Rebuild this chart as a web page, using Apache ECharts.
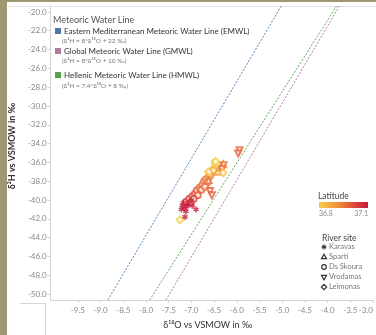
<!DOCTYPE html>
<html>
<head>
<meta charset="utf-8">
<script src="https://cdn.jsdelivr.net/npm/echarts@6/dist/echarts.min.js"></script>
<style>
  html, body { margin: 0; padding: 0; background: #fff; }
  #chart { width: 376px; height: 335px; }
</style>
</head>
<body>
<div id="chart"></div>
<script>
// axis extents and tick labels
const X_MIN = -10.1, X_MAX = -3.0
const Y_MIN = -50.63, Y_MAX = -19.37
const X_TICKS = [-9.5, -9.0, -8.5, -8.0, -7.5, -7.0, -6.5, -6.0, -5.5, -5.0, -4.5, -4.0, -3.5, -3.0]
const Y_TICKS = [-50, -48, -46, -44, -42, -40, -38, -36, -34, -32, -30, -28, -26, -24, -22, -20]

// meteoric water lines, as drawn (end points at the pane edges)
const EMWL_LINE = [[-8.84, -50.63], [-5.02, -19.37]]
const GMWL_LINE = [[-7.56, -50.63], [-3.74, -19.37]]
const HMWL_LINE = [[-7.92, -50.63], [-3.80, -19.37]]

// samples: [d18O, d2H, latitude]
const KARAVAS = [
  [-7.20, -40.6, 37.10], [-7.16, -40.9, 37.09], [-7.12, -41.2, 37.10], [-7.08, -40.4, 37.08],
  [-7.14, -41.8, 37.10], [-7.04, -40.2, 37.07], [-6.90, -41.0, 37.09], [-7.18, -40.3, 37.08],
  [-7.10, -40.7, 37.10], [-7.00, -40.0, 37.06], [-7.22, -41.0, 37.10], [-6.98, -40.6, 37.08],
]
const SPARTI = [
  [-6.35, -36.5, 36.92], [-6.30, -36.2, 36.94], [-6.42, -37.0, 36.90], [-6.62, -37.9, 36.96],
]
const DS_SKOURA = [
  [-7.12, -40.2, 37.05], [-7.05, -39.9, 37.04], [-6.98, -39.6, 37.02], [-6.92, -39.3, 37.01],
  [-6.88, -39.0, 36.99], [-6.82, -38.7, 36.98], [-6.76, -38.4, 36.96], [-6.72, -38.0, 36.95],
  [-6.68, -37.8, 36.94], [-6.62, -37.6, 36.93], [-6.58, -37.4, 36.91], [-6.54, -37.0, 36.89],
  [-6.50, -36.7, 36.86], [-6.47, -36.4, 36.82], [-6.45, -36.2, 36.80], [-6.43, -36.5, 36.80],
  [-6.52, -36.9, 36.85], [-6.60, -37.2, 36.90], [-6.65, -38.1, 36.95], [-6.78, -38.9, 36.98],
  [-6.86, -39.5, 37.00], [-6.95, -39.9, 37.03], [-7.02, -40.3, 37.05], [-6.70, -38.6, 36.97],
  [-6.48, -36.0, 36.81], [-6.40, -36.3, 36.83],
]
const VRODAMAS = [
  [-5.94, -34.7, 36.97], [-5.97, -35.05, 36.98], [-6.29, -36.3, 36.95], [-6.33, -36.7, 36.96],
  [-6.59, -39.05, 36.98], [-6.55, -39.5, 36.99],
]
const LEIMONAS = [
  [-7.25, -42.1, 36.80], [-6.30, -37.1, 36.81], [-6.62, -37.0, 36.82], [-6.47, -35.9, 36.80],
]

const LAT_MIN = 36.8, LAT_MAX = 37.1
const LAT_COLORS = ['#f6cf4c', '#f09a3c', '#e3553b', '#c2183c']

const ASTERISK = 'path://M-1.2,-5L1.2,-5L1.2,5L-1.2,5Z' +
  'M-4.93,-1.46L-3.73,-3.54L4.93,1.46L3.73,3.54Z' +
  'M-3.73,3.54L-4.93,1.46L3.73,-3.54L4.93,-1.46Z'

const FONT = "'Liberation Sans Narrow', Lato"
const AXIS_GREY = '#d6d6d6'
const LABEL_GREY = '#8a8a8a'

function mwlSeries(name, data, color) {
  return {
    name,
    type: 'line',
    data,
    symbol: 'none',
    silent: true,
    lineStyle: { color, width: 1, type: [2, 1.5] },
    z: 1,
  }
}

function siteSeries(name, data, symbol, size, extra) {
  return Object.assign({
    name,
    type: 'scatter',
    data,
    symbol,
    symbolSize: size,
    itemStyle: { borderWidth: 1.1 },
    z: 3,
  }, extra || {})
}

const legendText = (x, y, text, size, color, weight) => ({
  type: 'text', x, y,
  style: { text, font: `${weight || 'normal'} ${size}px ${FONT}`, fill: color, textVerticalAlign: 'middle' },
})
const swatch = (x, y, color) => ({ type: 'rect', shape: { x, y: y - 3, width: 6, height: 6 }, style: { fill: color } })
const outline = { fill: 'none', stroke: '#333', lineWidth: 1.2 }

const chart = echarts.init(document.getElementById('chart'))
chart.setOption({
  animation: false,
  grid: { left: 45, right: 0, top: 6, bottom: 32 },
  xAxis: {
    type: 'value', min: X_MIN, max: X_MAX,
    name: 'δ¹⁸O vs VSMOW in ‰', nameLocation: 'middle', nameGap: 21,
    nameTextStyle: { color: '#333', fontSize: 9, fontFamily: FONT, padding: [0, 8, 0, 0] },
    axisLine: { lineStyle: { color: AXIS_GREY } },
    axisTick: { customValues: X_TICKS, length: 3, lineStyle: { color: AXIS_GREY } },
    axisLabel: {
      customValues: X_TICKS, color: LABEL_GREY, fontSize: 8, fontFamily: FONT, margin: 6,
      formatter: (v) => v.toFixed(1), alignMaxLabel: 'right',
    },
    splitLine: { show: false },
  },
  yAxis: {
    type: 'value', min: Y_MIN, max: Y_MAX,
    name: 'δ²H vs VSMOW in ‰', nameLocation: 'middle', nameGap: 20, nameRotate: 90,
    nameTextStyle: { color: '#333', fontSize: 9, fontFamily: FONT, fontWeight: 'bold', padding: [0, 0, 0, 14] },
    axisLine: { show: true, lineStyle: { color: AXIS_GREY } },
    axisTick: { show: true, customValues: Y_TICKS, length: 3, lineStyle: { color: AXIS_GREY } },
    axisLabel: {
      customValues: Y_TICKS, color: LABEL_GREY, fontSize: 8, fontFamily: FONT, margin: 4,
      formatter: (v) => v.toFixed(1),
    },
    splitLine: { show: false },
  },
  visualMap: {
    show: false, type: 'continuous', dimension: 2, min: LAT_MIN, max: LAT_MAX,
    seriesIndex: [3, 4, 5, 6, 7],
    inRange: { color: LAT_COLORS },
  },
  series: [
    mwlSeries('EMWL', EMWL_LINE, '#5b84b8'),
    mwlSeries('GMWL', GMWL_LINE, '#b87aae'),
    mwlSeries('HMWL', HMWL_LINE, '#5fa957'),
    siteSeries('Ds Skoura', DS_SKOURA, 'emptyCircle', 6),
    siteSeries('Sparti', SPARTI, 'emptyTriangle', 6),
    siteSeries('Vrodamas', VRODAMAS, 'emptyTriangle', 6, { symbolRotate: 180 }),
    siteSeries('Leimonas', LEIMONAS, 'emptyDiamond', 7),
    siteSeries('Karavas', KARAVAS, ASTERISK, 6, { itemStyle: { borderWidth: 0 } }),
  ],
  graphic: [
    // page frame
    { type: 'rect', shape: { x: 0, y: 0, width: 7, height: 335 }, style: { fill: '#9f9672' }, silent: true },
    { type: 'rect', shape: { x: 0, y: 0, width: 376, height: 2 }, style: { fill: '#9f9672' }, silent: true },
    { type: 'line', shape: { x1: 9, y1: 6.5, x2: 376, y2: 6.5 }, style: { stroke: '#e3e3e3', lineWidth: 1 } },
    { type: 'line', shape: { x1: 45.5, y1: 303, x2: 45.5, y2: 335 }, style: { stroke: AXIS_GREY, lineWidth: 1 } },
    { type: 'line', shape: { x1: 20, y1: 303.5, x2: 45, y2: 303.5 }, style: { stroke: AXIS_GREY, lineWidth: 1 } },

    // meteoric water line legend
    legendText(53, 20, 'Meteoric Water Line', 9, '#555'),
    swatch(55, 31, '#4e79a7'),
    legendText(64, 31, 'Eastern Mediterranean Meteoric Water Line (EMWL)', 8, '#333'),
    legendText(62, 41, '(δ²H = 8*δ¹⁸O + 22 ‰)', 6.5, '#777'),
    swatch(55, 51, '#b07aa1'),
    legendText(64, 51, 'Global Meteoric Water Line (GMWL)', 8, '#333'),
    legendText(62, 61, '(δ²H = 8*δ¹⁸O + 10 ‰)', 6.5, '#777'),
    swatch(55, 75, '#59a14f'),
    legendText(64, 75, 'Hellenic Meteoric Water Line (HMWL)', 8, '#333'),
    legendText(62, 86, '(δ²H = 7.4*δ¹⁸O + 8 ‰)', 6.5, '#777'),

    // latitude legend
    legendText(318, 196, 'Latitude', 8.5, '#444'),
    {
      type: 'rect', shape: { x: 319, y: 202, width: 49, height: 6 },
      style: {
        fill: new echarts.graphic.LinearGradient(0, 0, 1, 0, LAT_COLORS.map((c, i) => ({ offset: i / (LAT_COLORS.length - 1), color: c }))),
      },
    },
    legendText(319, 214, '36.8', 7, '#888'),
    { type: 'text', x: 368, y: 214, style: { text: '37.1', font: `7px ${FONT}`, fill: '#888', textAlign: 'right', textVerticalAlign: 'middle' } },

    // river site legend
    legendText(322, 238, 'River site', 8.5, '#444'),
    {
      type: 'group', x: 324, y: 247,
      children: [0, 60, 120].map((deg) => ({
        type: 'rect', rotation: deg * Math.PI / 180,
        shape: { x: -0.6, y: -2.6, width: 1.2, height: 5.2 }, style: { fill: '#333' },
      })),
    },
    { type: 'polygon', shape: { points: [[324, 254.3], [326.5, 258.6], [321.5, 258.6]] }, style: outline },
    { type: 'circle', shape: { cx: 324, cy: 267, r: 2.3 }, style: outline },
    { type: 'polygon', shape: { points: [[321.5, 275.4], [326.5, 275.4], [324, 279.7]] }, style: outline },
    { type: 'polygon', shape: { points: [[324, 284.4], [326.6, 287], [324, 289.6], [321.4, 287]] }, style: outline },
    legendText(329, 247, 'Karavas', 7.5, '#777'),
    legendText(329, 257, 'Sparti', 7.5, '#777'),
    legendText(329, 267, 'Ds Skoura', 7.5, '#777'),
    legendText(329, 277, 'Vrodamas', 7.5, '#777'),
    legendText(329, 287, 'Leimonas', 7.5, '#777'),
  ],
})
</script>
</body>
</html>
